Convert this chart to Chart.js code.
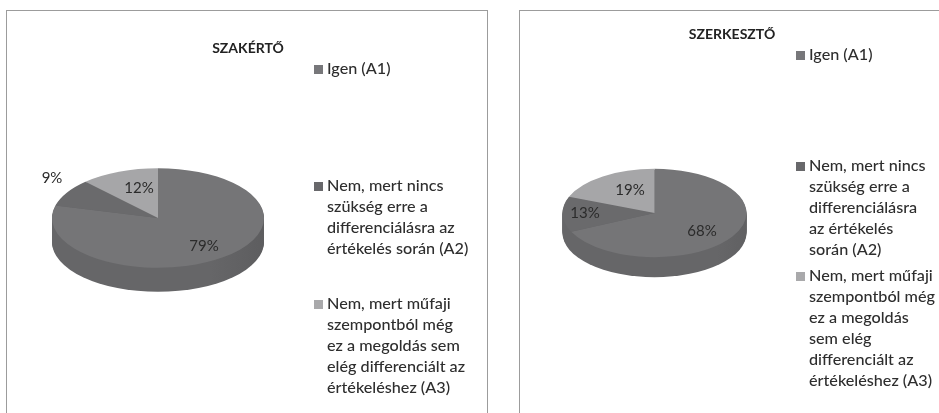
<!DOCTYPE html>
<html>
<head>
<meta charset="utf-8">
<script src="https://cdn.jsdelivr.net/npm/chart.js@4"></script>
<style>
    html, body { margin: 0; padding: 0; background: #fff; overflow: hidden; }
    #wrap { position: relative; width: 939px; height: 413px; filter: blur(0.45px); }
    .panel { position: absolute; top: 10px; height: 403px; box-sizing: border-box; border: 1px solid #9c9c9c; border-bottom: 0; }
    #panel-a { left: 6px; width: 482px; }
    #panel-b { left: 519px; width: 425px; }
    canvas { position: absolute; top: 0; left: 0; }
</style>
</head>
<body>
<div id="wrap">
    <div class="panel" id="panel-a"></div>
    <div class="panel" id="panel-b"></div>
    <canvas id="chart-a" width="500" height="413"></canvas>
    <canvas id="chart-b" width="439" height="413" style="left:500px"></canvas>
</div>
<script>
const categories = ['Igen (A1)', 'Nem, mert nincs szükség erre a differenciálásra az értékelés során (A2)', 'Nem, mert műfaji szempontból még ez a megoldás sem elég differenciált az értékeléshez (A3)'];
const valuesSzakerto = [79, 9, 12];
const valuesSzerkeszto = [68, 13, 19];
const legendSzakerto = [
    ['Igen (A1)'],
    ['Nem, mert nincs', 'szükség erre a', 'differenciálásra az', 'értékelés során (A2)'],
    ['Nem, mert műfaji', 'szempontból még', 'ez a megoldás sem', 'elég differenciált az', 'értékeléshez (A3)']
];
const legendSzerkeszto = [
    ['Igen (A1)'],
    ['Nem, mert nincs', 'szükség erre a', 'differenciálásra', 'az értékelés', 'során (A2)'],
    ['Nem, mert műfaji', 'szempontból még', 'ez a megoldás', 'sem elég', 'differenciált az', 'értékeléshez (A3)']
];
const sliceColors = ['#757577', '#6a6a6c', '#a6a6a8'];
const swatchColors = ['#77777a', '#68686b', '#a9a9ab'];
const fontName = 'Lato, "Open Sans", sans-serif';

// lapitott pite + oldalfal
const pie3d = {
    id: 'pie3d',
    beforeDatasetsDraw(chart, args, opts) {
        const ctx = chart.ctx;
        const arcs = chart.getDatasetMeta(0).data;
        const cx = arcs[0].x, cy = arcs[0].y;
        const squash = opts.squash;
        const r = arcs[0].outerRadius;
        const grad = ctx.createLinearGradient(cx - r, 0, cx + r, 0);
        grad.addColorStop(0, '#666668');
        grad.addColorStop(0.55, '#535355');
        grad.addColorStop(0.85, '#444446');
        grad.addColorStop(1, '#4e4e50');
        ctx.save();
        for (let d = opts.depth; d > 0; d--) {
            ctx.save();
            ctx.translate(cx, cy + d);
            ctx.scale(1, squash);
            ctx.beginPath();
            ctx.arc(0, 0, r, 0, Math.PI * 2);
            ctx.fillStyle = grad;
            ctx.fill();
            ctx.restore();
        }
        ctx.restore();
        ctx.save();
        ctx.translate(cx, cy);
        ctx.scale(1, squash);
        ctx.translate(-cx, -cy);
    },
    afterDatasetsDraw(chart, args, opts) {
        const ctx = chart.ctx;
        ctx.restore();
        const values = chart.data.datasets[0].data;
        ctx.save();
        ctx.fillStyle = '#2b2b2b';
        ctx.font = '15px ' + fontName;
        ctx.textAlign = 'center';
        ctx.textBaseline = 'middle';
        values.forEach(function (value, i) {
            const pos = opts.labelPos[i];
            ctx.fillText(value + '%', pos[0], pos[1]);
        });
        ctx.restore();
    },
    afterDraw(chart, args, opts) {
        const ctx = chart.ctx;
        ctx.save();
        ctx.font = '500 16.2px ' + fontName;
        ctx.textBaseline = 'middle';
        ctx.textAlign = 'left';
        opts.legend.forEach(function (lines, i) {
            const y = opts.legendY[i];
            ctx.fillStyle = swatchColors[i];
            ctx.fillRect(opts.legendX, y - 4, 9, 9);
            ctx.fillStyle = '#2e2e2e';
            lines.forEach(function (line, n) {
                ctx.fillText(line, opts.legendX + 13, y + n * opts.lineStep);
            });
        });
        ctx.restore();
    }
};

function createPie(id, values, title, titleX, titleY, pad, extra) {
    return new Chart(document.getElementById(id), {
        type: 'pie',
        data: {
            labels: categories,
            datasets: [{ data: values, backgroundColor: sliceColors, borderWidth: 0 }]
        },
        plugins: [pie3d, {
            id: 'titleText',
            afterDraw(chart) {
                const ctx = chart.ctx;
                ctx.save();
                ctx.font = '700 14px ' + fontName;
                ctx.fillStyle = '#222';
                ctx.textAlign = 'center';
                ctx.textBaseline = 'middle';
                ctx.fillText(title, titleX, titleY);
                ctx.restore();
            }
        }],
        options: {
            responsive: false,
            animation: false,
            rotation: 0,
            layout: { padding: pad },
            plugins: {
                legend: { display: false },
                title: { display: false },
                tooltip: { enabled: false },
                pie3d: extra
            }
        }
    });
}

// SZAKÉRTŐ
createPie('chart-a', valuesSzakerto, 'SZAKÉRTŐ', 248, 48,
    { left: 52, right: 500 - 264, top: 218 - 106, bottom: 413 - 218 - 106 },
    {
        squash: 0.47, depth: 24,
        labelPos: [[204, 246], [52, 178], [139, 188]],
        legend: legendSzakerto,
        legendX: 314,
        legendY: [69, 186, 304],
        lineStep: 21
    });

// SZERKESZTŐ
createPie('chart-b', valuesSzerkeszto, 'SZERKESZTŐ', 232, 34,
    { left: 62, right: 439 - 247, top: 213 - 92, bottom: 413 - 213 - 92 },
    {
        squash: 0.48, depth: 20,
        labelPos: [[202, 231], [85, 213], [130, 190]],
        legend: legendSzerkeszto,
        legendX: 296,
        legendY: [55, 166, 276],
        lineStep: 21
    });
</script>
</body>
</html>
